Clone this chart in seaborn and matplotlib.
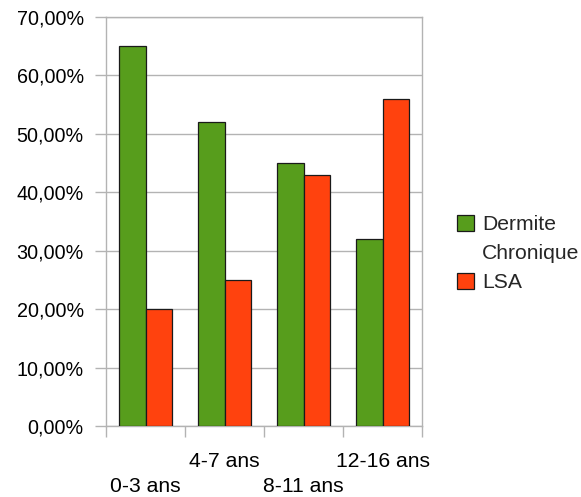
import matplotlib
matplotlib.use("Agg")
import matplotlib.pyplot as plt
import matplotlib.transforms as mtransforms
from matplotlib.ticker import FuncFormatter, FixedLocator
from matplotlib.patches import Patch
import seaborn as sns
import pandas as pd

categories = ["0-3 ans", "4-7 ans", "8-11 ans", "12-16 ans"]
dermite = [65, 52, 45, 32]
lsa = [20, 25, 43, 56]
series_names = ["Dermite\nChronique", "LSA"]
colors = ["#579d1c", "#ff420e"]

df = pd.DataFrame({
    "Âge": categories * 2,
    "Valeur": dermite + lsa,
    "Série": [series_names[0]] * len(categories) + [series_names[1]] * len(categories),
})

sns.set_style("white")
plt.rcParams["font.family"] = ["Liberation Sans", "DejaVu Sans"]

W, H = 581, 497
fig = plt.figure(figsize=(W / 100, H / 100), dpi=100)
ax = fig.add_axes([106 / W, 1 - 426 / H, (422 - 106) / W, (426 - 17) / H])

grid_col = "#b3b3b3"
edge_col = "#1a1a1a"
sns.barplot(data=df, x="Âge", y="Valeur", hue="Série", palette=colors,
            width=2 / 3, edgecolor=edge_col, linewidth=0.9, saturation=1,
            ax=ax, zorder=3)

ax.set_ylim(0, 70)
ax.set_xlim(-0.5, len(categories) - 0.5)
ax.set_yticks(range(0, 71, 10))
ax.yaxis.set_major_formatter(FuncFormatter(lambda v, p: f"{v:.2f}%".replace(".", ",")))
ax.yaxis.grid(True, color=grid_col, linewidth=1.0, zorder=0)
ax.set_axisbelow(True)
ax.set_xlabel("")
ax.set_ylabel("")

for s in ax.spines.values():
    s.set_visible(True)
    s.set_color(grid_col)
    s.set_linewidth(1.0)

ax.tick_params(axis="y", which="major", length=8, color=grid_col, width=1.0,
               labelsize=14.2, pad=8, labelcolor="#000000", left=True)
# category boundaries get the tick marks, centres carry the labels
ax.xaxis.set_minor_locator(FixedLocator([i - 0.5 for i in range(len(categories) + 1)]))
ax.tick_params(axis="x", which="minor", length=8, color=grid_col, width=1.0, bottom=True)
ax.tick_params(axis="x", which="major", length=0, labelsize=15.2, pad=18.5, labelcolor="#000000")

# staggered labels: alternate ones dropped one row lower
for i, lab in enumerate(ax.get_xticklabels()):
    if i % 2 == 0:
        lab.set_transform(lab.get_transform() +
                          mtransforms.ScaledTranslation(0, -25.5 / 100, fig.dpi_scale_trans))

# legend: the swatch sits beside the first line of each series name
ax.get_legend().remove()
leg_handles, leg_labels = [], []
for name, col in zip(series_names, colors):
    for j, line in enumerate(name.split("\n")):
        if j == 0:
            leg_handles.append(Patch(facecolor=col, edgecolor=edge_col, linewidth=0.9))
        else:
            leg_handles.append(Patch(facecolor="none", edgecolor="none"))
        leg_labels.append(line)
fig.legend(leg_handles, leg_labels, loc="upper left",
           bbox_to_anchor=(457 / W, 1 - 215 / H), frameon=False, fontsize=15.2,
           handlelength=0.8, handleheight=0.8, handletextpad=0.4,
           labelspacing=0.45, borderpad=0, borderaxespad=0)

fig.savefig("out.png", dpi=100)
